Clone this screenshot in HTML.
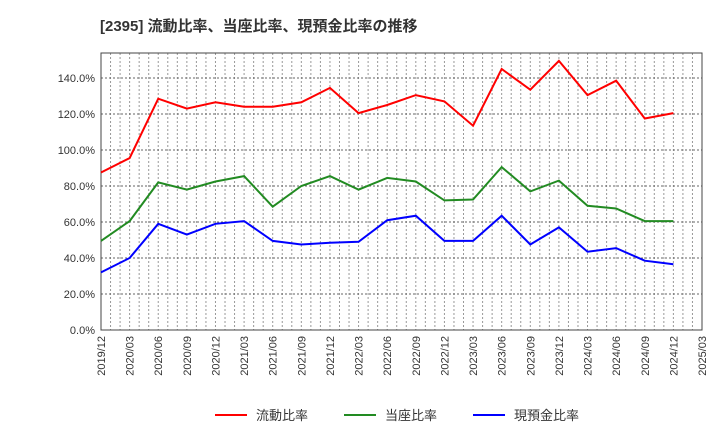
<!DOCTYPE html>
<html><head><meta charset="utf-8"><style>
body{margin:0;background:#fff;}
text{font-family:"Liberation Sans","Noto Sans CJK JP",sans-serif;}
</style></head><body>
<svg id="c" width="720" height="440" xmlns="http://www.w3.org/2000/svg">
<text x="100" y="31" font-size="15" font-weight="bold" fill="#333">[2395]  流動比率、当座比率、現預金比率の推移</text>
<g id="grid"></g><g id="axes"></g><g id="series"></g><g id="legend"></g>
</svg>
<script>
const xLabels=["2019/12","2020/03","2020/06","2020/09","2020/12","2021/03","2021/06","2021/09","2021/12","2022/03","2022/06","2022/09","2022/12","2023/03","2023/06","2023/09","2023/12","2024/03","2024/06","2024/09","2024/12","2025/03"];
const yTicks=[0,20,40,60,80,100,120,140];
const seriesNames=["流動比率","当座比率","現預金比率"];
const seriesColors=["#ff0000","#228b22","#0000ff"];
const currentRatio=[87.5,95.5,128.5,123,126.5,124,124,126.5,134.5,120.5,125,130.5,127,113.5,145,133.5,149.5,130.5,138.5,117.5,120.5];
const quickRatio=[49.5,60.5,82,78,82.5,85.5,68.5,80,85.5,78,84.5,82.5,72,72.5,90.5,77,83,69,67.5,60.5,60.5];
const cashRatio=[32,40,59,53,59,60.5,49.5,47.5,48.5,49,61,63.5,49.5,49.5,63.5,47.5,57,43.5,45.5,38.5,36.5];
const L=101,R=702,T=53,B=330,yMax=(B-T)/1.8;
const NS="http://www.w3.org/2000/svg";
const xs=i=>L+(R-L)*i/(xLabels.length-1);
const ys=v=>B-(B-T)*v/yMax;
function mk(tag,attrs,parent){const e=document.createElementNS(NS,tag);for(const k in attrs)e.setAttribute(k,attrs[k]);document.getElementById(parent).appendChild(e);return e;}
// monthly vertical grid
for(let m=1;m<(xLabels.length-1)*3;m++){const x=L+(R-L)*m/((xLabels.length-1)*3);
const g=mk("line",{x1:x,x2:x,y1:T,y2:B,stroke:"#999","stroke-dasharray":"2,2","stroke-width":1},"grid");

}
yTicks.forEach(v=>{const y=ys(v);
const g=mk("line",{x1:L,x2:R,y1:y,y2:y,stroke:"#666","stroke-dasharray":"2,2","stroke-width":1},"grid");


const t=mk("text",{x:L-6,y:y+4,"text-anchor":"end","font-size":11,fill:"#333"},"axes");t.textContent=v.toFixed(1)+"%";

});
xLabels.forEach((s,i)=>{const x=xs(i);
const t=mk("text",{x:x+4,y:B+6,"text-anchor":"end","font-size":11,fill:"#333",transform:`rotate(-90 ${x+4} ${B+6})`},"axes");t.textContent=s;

});
const fr=mk("rect",{x:L,y:T,width:R-L,height:B-T,fill:"none",stroke:"#444","stroke-width":1},"axes");


[currentRatio,quickRatio,cashRatio].forEach((d,k)=>{
const p=mk("polyline",{points:d.map((v,i)=>xs(i)+","+ys(v)).join(" "),fill:"none",stroke:seriesColors[k],"stroke-width":2},"series");


const lx=[215,344,473][k];
const ll=mk("line",{x1:lx,x2:lx+32,y1:415,y2:415,stroke:seriesColors[k],"stroke-width":2},"legend");


const lt=mk("text",{x:lx+41,y:420,"font-size":13,fill:"#333"},"legend");lt.textContent=seriesNames[k];


});
</script>
</body></html>
